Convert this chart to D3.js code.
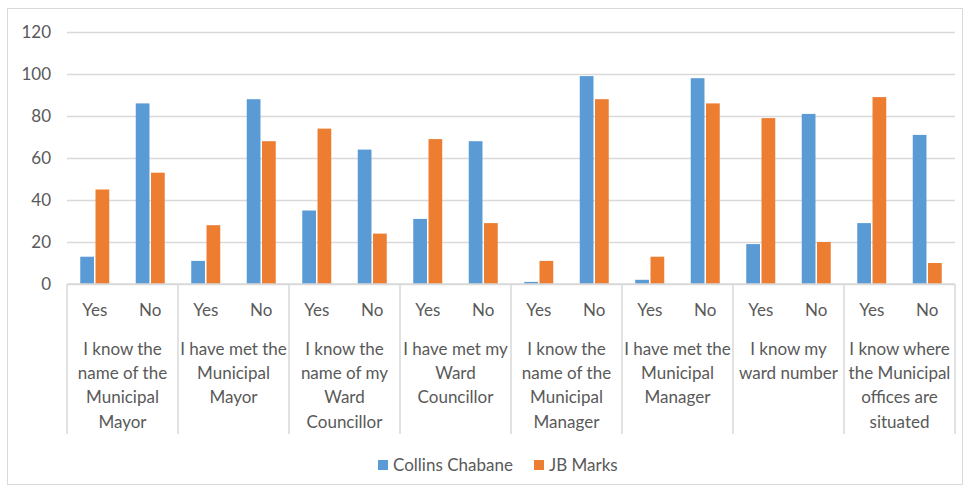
<!DOCTYPE html>
<html>
<head>
<meta charset="utf-8">
<script src="https://cdn.jsdelivr.net/npm/d3@7"></script>
<style>
html,body{margin:0;padding:0;background:#fff;}
svg{display:block;font-family:Lato,"Open Sans",sans-serif;}
</style>
</head>
<body>
<svg id="chart" width="970" height="491"></svg>
<script>
const categories = [
  "I know the\nname of the\nMunicipal\nMayor",
  "I have met the\nMunicipal\nMayor",
  "I know the\nname of my\nWard\nCouncillor",
  "I have met my\nWard\nCouncillor",
  "I know the\nname of the\nMunicipal\nManager",
  "I have met the\nMunicipal\nManager",
  "I know my\nward number",
  "I know where\nthe Municipal\noffices are\nsituated"
];
const answers = ["Yes", "No"];
const seriesNames = ["Collins Chabane", "JB Marks"];
const seriesColors = ["#5B9BD5", "#ED7D31"];
// values per category: [Yes, No]
const collinsChabane = [[13, 86], [11, 88], [35, 64], [31, 68], [1, 99], [2, 98], [19, 81], [29, 71]];
const jbMarks = [[45, 53], [28, 68], [74, 24], [69, 29], [11, 88], [13, 86], [79, 20], [89, 10]];
const yTicks = [0, 20, 40, 60, 80, 100, 120];

(function () {
const svg = d3.select("#chart");
const mLeft = 67, mRight = 955, mTop = 32, mBottom = 284;
const textColor = "#595959", gridColor = "#d9d9d9";
const fs = "17px";

// outer border
svg.append("rect").attr("x", 7.5).attr("y", 8.5).attr("width", 955).attr("height", 476)
  .attr("fill", "none").attr("stroke", gridColor).attr("stroke-width", 1);

const y = d3.scaleLinear().domain([0, 120]).range([mBottom, mTop]);
const xCat = d3.scaleBand().domain(d3.range(categories.length)).range([mLeft, mRight]).padding(0);
const xAns = d3.scaleBand().domain(answers).range([0, xCat.bandwidth()]).padding(0);
const xSer = d3.scaleBand().domain(seriesNames).range([xAns.bandwidth()/2 - 14.5, xAns.bandwidth()/2 + 14.5]).paddingInner(0.1);

// gridlines
const yAxis = d3.axisLeft(y).tickValues(yTicks).tickSize(-(mRight - mLeft)).tickPadding(16);
const gy = svg.append("g").attr("transform", `translate(${mLeft},0)`).call(yAxis);
gy.select(".domain").remove();
gy.selectAll(".tick line").attr("stroke", gridColor).attr("stroke-width", 1.5);
gy.selectAll(".tick text").attr("fill", textColor).style("font-size", fs).style("font-family", "Lato, 'Open Sans', sans-serif");

// bars
const groups = svg.append("g").selectAll("g").data(categories).join("g")
  .attr("transform", (d, i) => `translate(${xCat(i)},0)`);
groups.each(function(c, ci) {
  const g = d3.select(this);
  answers.forEach((a, ai) => {
    const vals = [collinsChabane[ci][ai], jbMarks[ci][ai]];
    seriesNames.forEach((s, si) => {
      g.append("rect")
        .attr("x", xAns(a) + xSer(s))
        .attr("y", y(vals[si]))
        .attr("width", xSer.bandwidth())
        .attr("height", y(0) - y(vals[si]))
        .attr("fill", seriesColors[si]);
    });
  });
});

// x axis baseline
svg.append("line").attr("x1", mLeft).attr("x2", mRight).attr("y1", mBottom).attr("y2", mBottom)
  .attr("stroke", gridColor).attr("stroke-width", 1.5);

// category dividers
const divs = d3.range(categories.length + 1).map(i => i < categories.length ? xCat(i) : mRight);
svg.append("g").selectAll("line").data(divs).join("line")
  .attr("x1", d => d).attr("x2", d => d).attr("y1", mBottom).attr("y2", 434)
  .attr("stroke", gridColor).attr("stroke-width", 1.5);

// answer labels
groups.each(function(c, ci) {
  const g = d3.select(this);
  g.selectAll("text.ans").data(answers).join("text").attr("class", "ans")
    .attr("x", a => xAns(a) + xAns.bandwidth()/2)
    .attr("y", 316)
    .attr("text-anchor", "middle")
    .attr("fill", textColor).style("font-size", fs)
    .text(a => a);
  const lines = c.split("\n");
  g.append("text").attr("text-anchor", "middle").attr("fill", textColor).style("font-size", fs)
    .selectAll("tspan").data(lines).join("tspan")
    .attr("x", xCat.bandwidth()/2)
    .attr("y", (d, i) => 355 + i * 24.2)
    .text(d => d);
});

// legend
const legendX = [378, 534];
const lg = svg.append("g").selectAll("g").data(seriesNames).join("g")
  .attr("transform", (d, i) => `translate(${legendX[i]},460)`);
lg.append("rect").attr("width", 10).attr("height", 10).attr("fill", (d, i) => seriesColors[i]);
lg.append("text").attr("x", 15).attr("y", 10.5).attr("fill", textColor).style("font-size", fs).text(d => d);
})();
</script>
</body>
</html>
